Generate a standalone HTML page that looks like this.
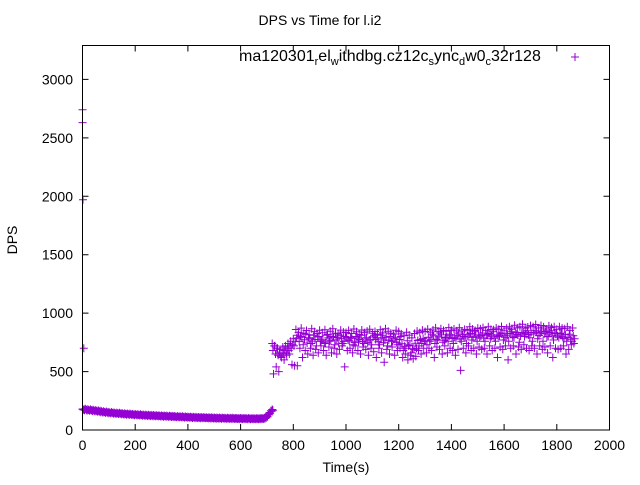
<!DOCTYPE html>
<html><head><meta charset="utf-8"><style>
body{margin:0;background:#fff}
svg text{font-family:"Liberation Sans",sans-serif;fill:#000}
</style></head><body>
<svg id="chart" width="640" height="480" viewBox="0 0 640 480" xmlns="http://www.w3.org/2000/svg">
<rect width="640" height="480" fill="#fff"/>
<text x="320" y="25" font-size="14" text-anchor="middle">DPS vs Time for l.i2</text>
<text x="346" y="472" font-size="14" text-anchor="middle">Time(s)</text>
<text transform="translate(17,240) rotate(-90)" font-size="14" text-anchor="middle">DPS</text>
<g id="axes"></g>
<g id="marks"></g>
<rect x="82.5" y="45.5" width="527" height="384.5" fill="none" stroke="#000" stroke-width="1"/>
<text x="239" y="61" font-size="16">ma120301<tspan dy="4" font-size="11">r</tspan><tspan dy="-4">el</tspan><tspan dy="4" font-size="11">w</tspan><tspan dy="-4">ithdbg.cz12c</tspan><tspan dy="4" font-size="11">s</tspan><tspan dy="-4">ync</tspan><tspan dy="4" font-size="11">d</tspan><tspan dy="-4">w0</tspan><tspan dy="4" font-size="11">c</tspan><tspan dy="-4">32r128</tspan></text>
<path d="M571,57h8M575,53v8" stroke="#9400d3" stroke-width="1"/>
</svg>
<script>
const xTicks=[0,200,400,600,800,1000,1200,1400,1600,1800,2000];
const yTicks=[0,500,1000,1500,2000,2500,3000];
const lowTimesStart=0, lowTimesStep=5;
const lowVals=[180,175,182,172,178,170,176,168,174,165,170,
162,168,158,164,155,160,152,158,150,155,
148,153,146,150,144,149,142,147,140,145,138,143,137,141,135,140,134,138,132,137,
131,135,130,134,128,133,127,132,126,130,125,129,124,128,123,127,122,126,121,125,
120,124,119,123,118,122,117,121,116,120,115,119,114,118,113,117,112,116,111,115,
110,114,109,113,108,112,108,111,107,111,106,110,106,109,105,109,104,108,104,107,
103,107,103,106,102,106,102,105,101,105,101,104,100,104,100,103,100,103,99,103,
99,102,99,102,98,102,98,101,98,101,98,101,98,101,99,102,100,104,
110,120,135,150,165,175];
const upStart=720, upStep=10;
const upA=[740,720,700,690,710,720,740,760,780,
860,835,872,828,851,815,866,842,826,853,
832,858,818,845,866,829,822,855,838,834,
852,826,864,841,817,856,833,846,862,828,
843,819,857,831,866,845,829,821,853,842,
822,806,836,812,788,826,846,833,855,843,
863,838,856,874,842,866,851,845,876,852,
864,848,875,846,861,853,884,863,851,872,
865,876,852,884,861,857,873,862,886,854,
872,884,862,896,874,883,905,872,881,893,
884,903,873,894,882,864,891,876,884,862,
883,872,866,884,852,873];
const upB=[680,650,640,630,650,660,680,700,720,
786,756,793,772,744,784,761,774,797,758,
772,746,788,763,796,771,742,784,758,794,
762,784,748,796,774,756,786,746,772,796,
774,754,786,746,793,768,758,786,748,774,
738,716,764,728,696,742,766,774,784,764,
794,772,806,778,796,814,768,793,806,783,
792,806,778,816,788,804,826,792,803,814,
804,786,812,826,802,788,814,806,824,794,
812,826,798,834,813,802,836,822,814,834,
822,836,808,846,824,798,834,812,826,804,
824,798,816,792,776,806];
const upC=[480,540,500,620,600,640,650,560,550,
550,700,620,680,650,700,640,690,660,720,
680,640,710,660,700,650,690,720,540,680,
700,660,720,680,650,710,690,640,700,670,
620,700,660,580,690,650,710,640,680,700,
620,650,600,640,610,630,680,650,700,660,
700,680,620,710,690,650,720,660,700,680,
640,690,510,700,660,720,680,700,650,710,
690,700,650,720,680,700,620,710,690,720,
600,700,720,650,710,690,730,700,680,720,
700,650,720,690,710,660,720,620,700,690,
700,720,650,690,730,740];
const upD=[720,700,660,650,680,700,720,730,760,
810,800,730,820,790,740,810,720,800,770,
740,810,760,800,730,790,810,740,800,770,
790,730,800,760,810,740,790,770,730,810,
790,730,810,770,720,800,760,790,730,800,
680,700,720,660,690,700,720,740,760,730,
760,820,740,770,830,750,790,760,820,740,
780,830,760,800,740,820,770,840,760,790,
830,760,820,780,840,760,800,830,770,810,
760,840,790,820,750,830,800,850,790,760,
850,780,830,760,840,800,850,770,830,790,
830,780,760,820,760,780];
const outT=[0,0,2,5];
const outV=[2740,2630,1970,700];

const NS="http://www.w3.org/2000/svg";
const X0=82.5,X1=609.5,Y0=430,Y1=45.5,XMAX=2000,YMAX=3290;
const sx=v=>X0+v/XMAX*(X1-X0);
const sy=v=>Y0-v/YMAX*(Y0-Y1);
const axes=document.getElementById('axes');
const marks=document.getElementById('marks');
function mk(tag,attrs,parent){const e=document.createElementNS(NS,tag);for(const k in attrs)e.setAttribute(k,attrs[k]);parent.appendChild(e);return e;}
xTicks.forEach(t=>{
  const x=sx(t);
  const l=mk('path',{d:`M${x},${Y0}v-6M${x},${Y1}v6`,stroke:'#000','stroke-width':1},axes);
  
  
  const tx=mk('text',{x:x,y:Y0+20,'font-size':14,'text-anchor':'middle'},axes);
  tx.textContent=t;
  
  
});
yTicks.forEach(t=>{
  const y=sy(t);
  const l=mk('path',{d:`M${X0},${y}h6M${X1},${y}h-6`,stroke:'#000','stroke-width':1},axes);
  
  
  const tx=mk('text',{x:73,y:y+5,'font-size':14,'text-anchor':'end'},axes);
  tx.textContent=t;
  
  
});
let d='';
function plus(t,v){const x=sx(t),y=sy(v);d+=`M${(x-4).toFixed(1)},${y.toFixed(1)}h8M${x.toFixed(1)},${(y-4).toFixed(1)}v8`;}
lowVals.forEach((v,i)=>{plus(lowTimesStart+i*lowTimesStep,v);plus(lowTimesStart+i*lowTimesStep+2.5,v-6);});
[upA,upB,upC,upD].forEach((arr,k)=>arr.forEach((v,i)=>plus(upStart+i*upStep+k*2.5,v)));
outT.forEach((t,i)=>plus(t,outV[i]));
const p=mk('path',{d:d,stroke:'#9400d3','stroke-width':1,fill:'none'},marks);


</script>
</body></html>
